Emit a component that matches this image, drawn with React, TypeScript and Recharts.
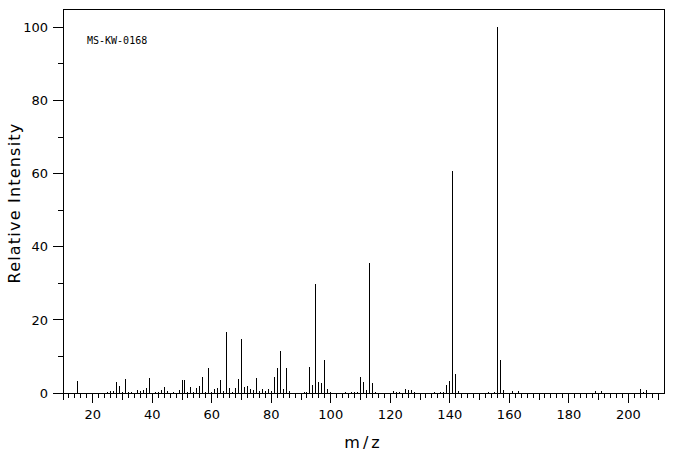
import { BarChart, Bar, XAxis, YAxis, ReferenceArea, Label } from 'recharts';

// peak list (m/z, relative intensity %)
const massToCharge = [
  15, 25, 26, 27, 28, 29, 30, 31, 32, 33, 35, 36, 37, 38, 39, 41, 42, 43, 44, 45,
  47, 49, 50, 51, 52, 53, 54, 55, 56, 57, 58, 59, 60, 61, 62, 63, 64, 65, 66, 67,
  68, 69, 70, 71, 72, 73, 74, 75, 76, 77, 78, 79, 80, 81, 82, 83, 84, 85, 86, 91,
  92, 93, 94, 95, 96, 97, 98, 99, 100, 105, 107, 108, 109, 110, 111, 112, 113, 114, 115, 121,
  122, 123, 125, 126, 127, 128, 135, 137, 138, 139, 140, 141, 142, 143, 153, 155, 156, 157, 158, 161,
  163, 189, 191, 204, 205, 206,
];
const intensity = [
  3.2, 0.4, 0.6, 0.6, 2.9, 2.0, 0.4, 3.9, 0.4, 0.4, 0.9, 0.5, 0.9, 1.5, 4.2, 0.4, 0.4, 0.7, 1.7, 0.6,
  0.4, 0.9, 3.6, 3.6, 0.4, 1.7, 0.4, 1.5, 2.0, 4.5, 0.4, 6.7, 0.4, 1.2, 1.5, 3.6, 0.6, 16.7, 1.5, 0.4,
  1.5, 3.9, 14.9, 1.7, 2.0, 1.2, 0.9, 4.2, 0.6, 1.2, 0.6, 1.2, 0.6, 4.5, 6.7, 11.6, 1.2, 6.7, 0.6, 0.4,
  0.4, 7.2, 2.3, 29.8, 3.1, 2.8, 9.1, 1.2, 0.4, 0.4, 0.4, 0.4, 0.4, 4.5, 3.1, 0.9, 35.5, 2.6, 0.4, 0.6,
  0.4, 0.4, 1.2, 0.9, 0.9, 0.4, 0.4, 0.4, 0.4, 2.1, 3.4, 60.8, 5.3, 0.6, 0.4, 0.4, 100, 9.1, 0.9, 0.6,
  0.6, 0.6, 0.6, 1.2, 0.4, 0.9,
];

const xTicks = Array.from({ length: 101 }, (_, i) => 10 + i * 2);
const yTicks = [0, 10, 20, 30, 40, 50, 60, 70, 80, 90, 100];
const sampleCode = 'MS-KW-0168';

const data = massToCharge.map((mz, i) => ({ mz, intensity: intensity[i] }));

const tickFont = { fontFamily: 'DejaVu Sans', fontSize: 13, fill: '#000' };

function XTick({ x, y, payload }: any) {
  const v = payload.value;
  const len = v % 20 === 0 ? 10 : v % 10 === 0 ? 7 : 5;
  return (
    <g>
      <line x1={x} x2={x} y1={y} y2={y + len} stroke="#000" />
      {v % 20 === 0 && (
        <text x={x} y={y + 26} textAnchor="middle" {...tickFont}>{v}</text>
      )}
    </g>
  );
}

function YTick({ x, y, payload }: any) {
  const v = payload.value;
  const major = v % 20 === 0;
  return (
    <g>
      <line x1={x - (major ? 10 : 5)} x2={x} y1={y} y2={y} stroke="#000" />
      {major && (
        <text x={x - 15} y={y + 4.7} textAnchor="end" {...tickFont}>{v}</text>
      )}
    </g>
  );
}

function Peak({ x, y, width, height }: any) {
  if (!height) return null;
  return <rect x={Math.round(x + width / 2 - 0.5)} y={y} width={1} height={height} fill="#000" />;
}

export default function App() {
  return (
    <div style={{ position: 'absolute', left: 0, top: 0, width: 676, height: 455, background: '#fff', shapeRendering: 'crispEdges' }}>
      <BarChart
        width={676}
        height={455}
        data={data}
        margin={{ top: 9, right: 12, left: 0, bottom: 0 }}
      >
        <XAxis
          dataKey="mz"
          type="number"
          domain={[10, 212]}
          ticks={xTicks}
          interval={0}
          tickSize={0}
          tickMargin={0}
          axisLine={false}
          tickLine={false}
          tick={<XTick />}
          height={62}
          allowDataOverflow
        >
          <Label
            content={() => (
              <text x={363.5} y={448} textAnchor="middle" fontFamily="DejaVu Sans" fontSize={16} letterSpacing={3} fill="#000">m/z</text>
            )}
          />
        </XAxis>
        <YAxis
          type="number"
          domain={[0, 105]}
          ticks={yTicks}
          interval={0}
          tickSize={0}
          tickMargin={0}
          axisLine={false}
          tickLine={false}
          tick={<YTick />}
          width={63}
          allowDataOverflow
        >
          <Label
            content={() => (
              <text x={19.5} y={203} transform="rotate(-90 19.5 203)" textAnchor="middle" fontFamily="DejaVu Sans" fontSize={16} letterSpacing={1.2} fill="#000">Relative Intensity</text>
            )}
          />
        </YAxis>
        <ReferenceArea x1={10} x2={212} y1={0} y2={105} fill="none" stroke="#000" strokeWidth={1} fillOpacity={0} strokeOpacity={1} />
        <Bar dataKey="intensity" barSize={1} shape={<Peak />} isAnimationActive={false} />
      </BarChart>
      <div style={{ position: 'absolute', left: 87, top: 36, fontFamily: 'DejaVu Sans Mono', fontSize: 10, lineHeight: '10px', color: '#000' }}>
        {sampleCode}
      </div>
    </div>
  );
}
